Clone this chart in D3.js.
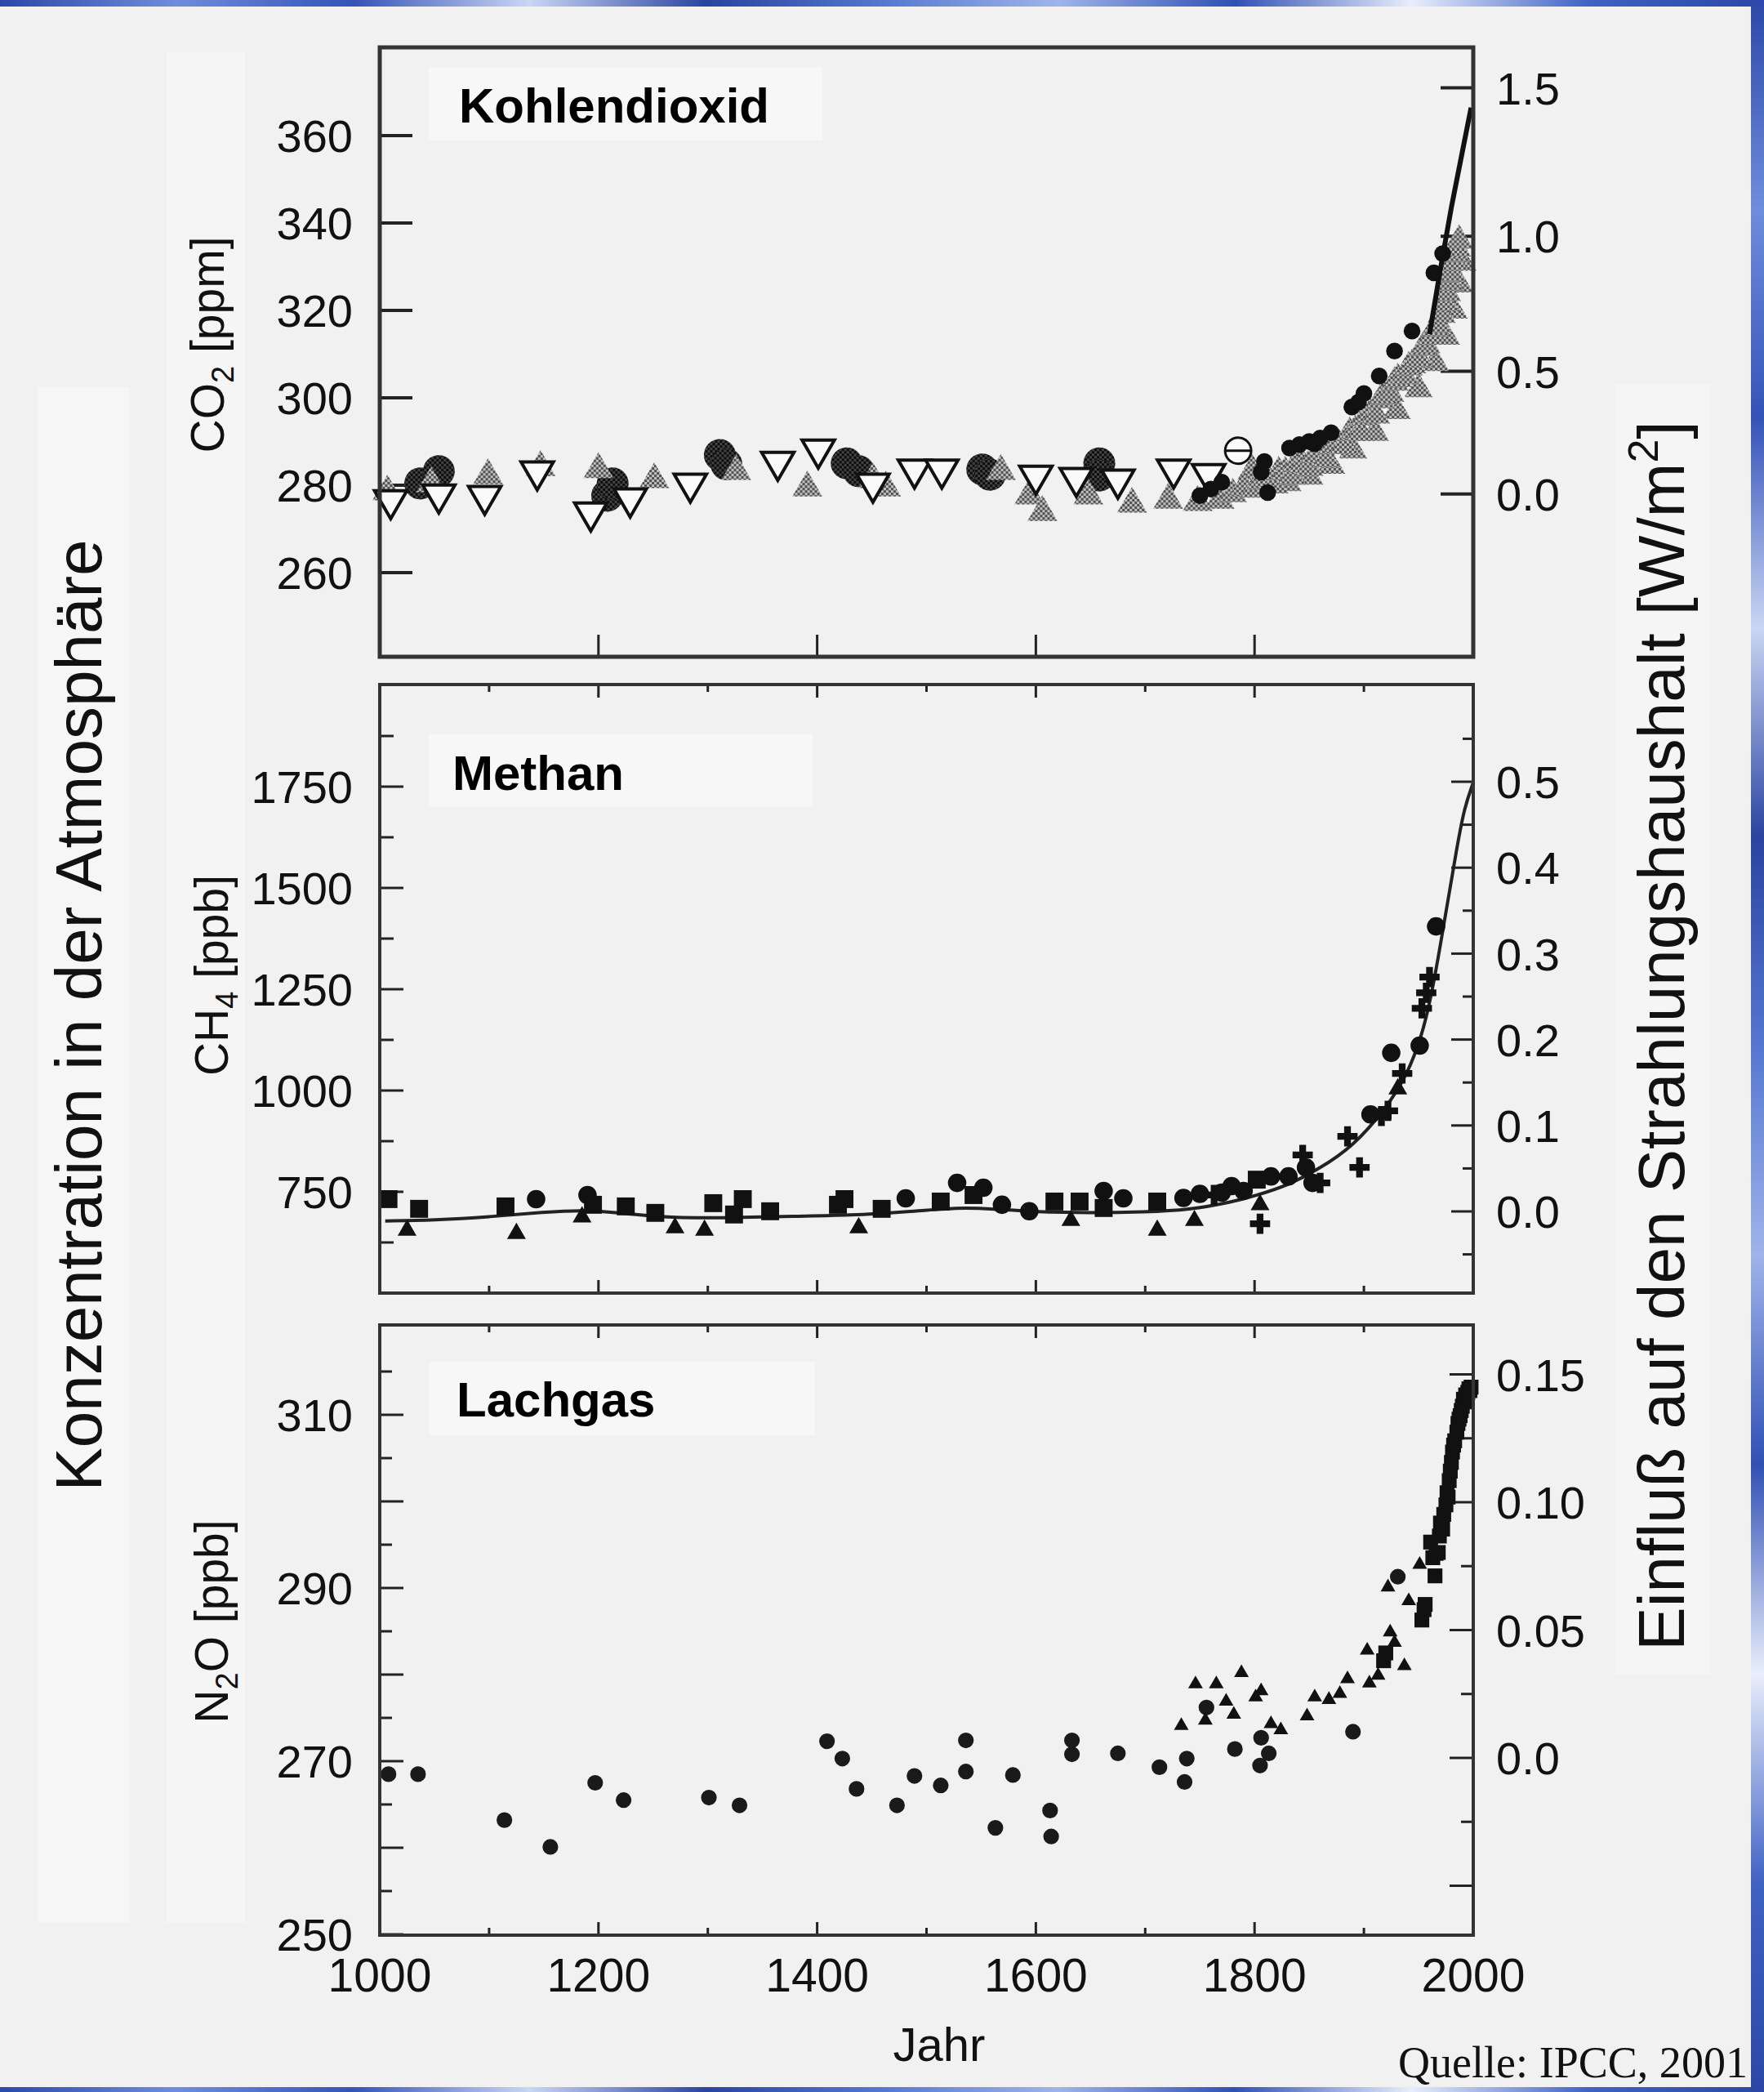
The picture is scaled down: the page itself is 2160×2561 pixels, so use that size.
<!DOCTYPE html>
<html lang="de">
<head>
<meta charset="utf-8">
<title>Konzentration von Treibhausgasen</title>
<script src="https://d3js.org/d3.v7.min.js"></script>
<style>
  body { margin: 0; background: #f1f1f1; }
  svg { display: block; }
</style>
</head>
<body>
<svg id="chart" width="2160" height="2561"></svg>
<script>
// ---------- data ----------
var yearTicks = [1000, 1200, 1400, 1600, 1800, 2000];
var yearMajor = [1200, 1400, 1600, 1800];
var yearMinor = [1100, 1300, 1500, 1700, 1900];

var co2Ticks = [260, 280, 300, 320, 340, 360];
var co2ForcingTicks = [0.0, 0.5, 1.0, 1.5];
var ch4Ticks = [750, 1000, 1250, 1500, 1750];
var ch4Minor = [625, 875, 1125, 1375, 1625, 1875];
var ch4ForcingTicks = [0.0, 0.1, 0.2, 0.3, 0.4, 0.5];
var ch4ForcingMinor = [-0.05, 0.05, 0.15, 0.25, 0.35, 0.45, 0.55];
var n2oTicks = [250, 270, 290, 310];
var n2oMajor = [260, 280, 300];
var n2oMinor = [255, 265, 275, 285, 295, 305, 315];
var n2oForcingTicks = [0.0, 0.05, 0.10, 0.15];
var n2oForcingMajor = [-0.05];
var n2oForcingMinor = [-0.025, 0.025, 0.075, 0.125];

// CO2 [ppm]
var co2Circles = [[1037,280.4],[1054,283.2],[1208,277.6],[1213,280.4],[1311,286.9],[1317,284.8],
  [1427,285.0],[1438,283.2],[1551,283.6],[1558,282.4],[1658,285.0],[1658,282.2]];
var co2OpenDown = [[1010,276.6],[1054,277.9],[1096,277.6],[1144,283.2],[1193,273.8],[1229,277.0],
  [1284,280.4],[1364,285.4],[1401,288.2],[1451,280.4],[1489,283.6],[1514,283.6],[1600,282.2],
  [1637,281.7],[1675,281.3],[1726,283.6],[1758,282.6]];
var co2GrayUp = [[1007,278.5],[1047,280.4],[1099,282.2],[1147,284.1],[1200,283.6],[1251,281.3],
  [1326,283.2],[1391,279.4],[1451,281.3],[1463,279.4],[1568,283.2],[1594,277.6],[1606,273.8],
  [1648,277.6],[1688,275.7],[1721,276.6],[1748,276.1],[1768,276.6],[1798,283.2]];
var co2Band = [[1780,278],[1790,279.5],[1800,279],[1806,281],[1812,281.5],[1818,280],[1822,283],
  [1828,283],[1834,282],[1838,285],[1844,284.7],[1850,284],[1855,287],[1860,286.9],[1866,286],
  [1871,289],[1877,289.3],[1882,289],[1887,292],[1892,292.5],[1897,292],[1901,295.5],[1906,296.4],
  [1911,296],[1915,299.5],[1918,300.4],[1924,301],[1928,303.5],[1931,304.3],[1937,305],[1941,307],
  [1944,307.5],[1950,309],[1954,311.5],[1957,312.1],[1962,314],[1965,316],[1967,316.8],[1971,319],
  [1974,321.7],[1976,324],[1978,326.4],[1980,328.5],[1982,331],[1984,333],[1985,334.2],[1987,336]];
var co2BandLow = [[1830,280.5],[1850,282],[1870,284.5],[1890,288],[1910,292],[1930,297],[1950,302],
  [1965,308],[1975,314],[1982,320],[1987,326],[1990,331]];
var co2Dark = [[1750,277.6],[1760,279.1],[1770,280.7],[1806,283],[1809,285.4],[1812,278.3],
  [1832,288.5],[1841,289.3],[1850,290],[1855,289.5],[1860,290.8],[1870,292],[1889,297.9],
  [1895,299],[1900,301],[1914,305],[1928,310.7],[1944,315.3],[1964,328.6],[1972,333]];
var co2OpenCircle = [[1785,287.9]];
var co2Line = [[1960,314.6],[1970,329.5],[1980,343.6],[1990,356.3],[1998,366.4]];

// CH4 [ppb]
var ch4Squares = [[1008,732],[1036,708],[1115,714],[1195,718],[1225,714],[1252,698],[1305,722],
  [1324,694],[1332,732],[1357,702],[1419,718],[1425,732],[1459,708],[1513,726],[1543,742],
  [1617,726],[1640,726],[1662,710],[1711,726],[1802,780]];
var ch4Circles = [[1143,732],[1190,742],[1481,734],[1528,772],[1552,760],[1569,718],[1594,702],
  [1662,752],[1680,734],[1735,735],[1750,745],[1770,748],[1779,764],[1790,752],[1815,788],
  [1831,788],[1847,810],[1853,772],[1906,941],[1925,1093],[1951,1111],[1966,1405]];
var ch4Triangles = [[1025,655],[1125,647],[1185,688],[1270,661],[1297,655],[1438,661],[1632,679],
  [1711,655],[1745,679],[1805,718],[1931,1004]];
var ch4Crosses = [[1763,742],[1805,671],[1844,841],[1860,772],[1885,887],[1896,810],[1916,937],
  [1922,950],[1935,1042],[1953,1203],[1957,1241],[1960,1280]];
var ch4Line = [[1005,678],[1050,680],[1100,688],[1150,700],[1190,706],[1230,695],[1270,685],
  [1320,686],[1380,690],[1430,692],[1480,700],[1530,712],[1560,708],[1600,700],[1650,698],
  [1700,700],[1740,705],[1780,725],[1800,740],[1830,765],[1860,808],[1890,862],[1920,955],
  [1940,1040],[1955,1150],[1965,1280],[1975,1440],[1985,1600],[1992,1700],[2000,1760]];

// N2O [ppb]
var n2oCircles = [[1008,268.5],[1035,268.5],[1114,263.2],[1156,260.1],[1197,267.5],[1223,265.5],
  [1301,265.8],[1329,264.9],[1409,272.3],[1423,270.3],[1436,266.8],[1473,264.9],[1489,268.3],
  [1513,267.2],[1536,272.4],[1536,268.8],[1563,262.3],[1579,268.4],[1613,264.3],[1614,261.3],
  [1633,272.4],[1633,270.8],[1675,270.9],[1713,269.3],[1738,270.3],[1736,267.6],[1756,276.2],
  [1782,271.4],[1806,272.7],[1813,270.9],[1805,269.5],[1890,273.4],[1931,291.3]];
var n2oTriangles = [[1733,274.1],[1746,278.9],[1765,278.9],[1774,276.9],[1755,274.7],[1788,280.2],
  [1781,275.4],[1806,278.1],[1801,277.4],[1815,274.3],[1824,273.6],[1848,275.2],[1855,277.4],
  [1868,277.1],[1878,277.8],[1885,279.5],[1905,279.0],[1903,282.8],[1913,279.9],[1922,290.1],
  [1924,284.9],[1928,283.7],[1937,281.0],[1941,288.5],[1951,292.7]];
var n2oSquares = [[1918,281.6],[1920,282.5],[1953,286.3],[1955,287.5],[1956,288.1],[1961,295.3],
  [1963,293.5],[1965,291.4],[1966,294],[1968,294.1],[1969,296],[1970,297.5],[1972,296.8],
  [1973,298.5],[1975,299.6],[1976,301],[1977,300.5],[1978,302.4],[1979,303.5],[1980,304.5],
  [1981,305.7],[1982,306.5],[1983,307],[1985,308.0],[1986,309],[1987,309.5],[1988,309.9],
  [1989,310.5],[1990,311],[1991,311.8],[1992,311.5],[1993,312.3],[1994,312],[1995,312.6],
  [1996,313],[1997,312.8],[1998,313.2]];

// ---------- setup ----------
var font = '"Liberation Sans", Arial, Helvetica, sans-serif';
var svg = d3.select("#chart");
var defs = svg.append("defs");

function checker(id, a, b, s) {
  var p = defs.append("pattern").attr("id", id).attr("patternUnits", "userSpaceOnUse")
    .attr("width", 2 * s).attr("height", 2 * s);
  p.append("rect").attr("width", 2 * s).attr("height", 2 * s).attr("fill", b);
  p.append("rect").attr("width", s).attr("height", s).attr("fill", a);
  p.append("rect").attr("x", s).attr("y", s).attr("width", s).attr("height", s).attr("fill", a);
}
checker("grayChk", "#505050", "#c0c0c0", 3);
checker("darkChk", "#0c0c0c", "#444", 3);

// blue frame stripes
var blues = ["#2c48a8", "#6f8ddc", "#3553b8", "#c9d6f4", "#2a44a0", "#5577d0", "#9fb4ea", "#3050b4", "#e8eefc", "#4062c4", "#2b47a6"];
function stripeGrad(id, vertical) {
  var g = defs.append("linearGradient").attr("id", id)
    .attr("x1", 0).attr("y1", 0).attr("x2", vertical ? 0 : 1).attr("y2", vertical ? 1 : 0);
  blues.forEach(function (c, i) {
    g.append("stop").attr("offset", (i / (blues.length - 1) * 100) + "%").attr("stop-color", c);
  });
}
stripeGrad("blueH", false);
stripeGrad("blueV", true);

svg.append("rect").attr("width", 2160).attr("height", 2561).attr("fill", "#f1f1f1");
// lighter label backgrounds
svg.append("rect").attr("x", 46).attr("y", 474).attr("width", 112).attr("height", 1880).attr("fill", "#f6f6f6");
svg.append("rect").attr("x", 204).attr("y", 64).attr("width", 96).attr("height", 2290).attr("fill", "#f5f5f5");
svg.append("rect").attr("x", 1978).attr("y", 470).attr("width", 116).attr("height", 1580).attr("fill", "#f5f5f5");

svg.append("rect").attr("x", 0).attr("y", 0).attr("width", 2160).attr("height", 8).attr("fill", "url(#blueH)");
svg.append("rect").attr("x", 0).attr("y", 2555).attr("width", 2160).attr("height", 6).attr("fill", "url(#blueH)");
svg.append("rect").attr("x", 2144).attr("y", 0).attr("width", 16).attr("height", 2561).attr("fill", "url(#blueV)");

var x = d3.scaleLinear().domain([1000, 2000]).range([465, 1804]);

var yCO2 = d3.scaleLinear().domain([260, 360]).range([701, 166]);
var fCO2 = function (F) { return yCO2(278 * Math.exp(F / 5.2)); };
var yCH4 = d3.scaleLinear().domain([750, 1750]).range([1459, 963]);
var fCH4 = d3.scaleLinear().domain([0, 0.5]).range([1483, 957]);
var yN2O = d3.scaleLinear().domain([270, 310]).range([2156, 1732]);
var fN2O = d3.scaleLinear().domain([0, 0.1]).range([2152, 1839]);

var panels = [
  { top: 58, bottom: 804, title: "Kohlendioxid", tx: 562, ty: 150, box: [525, 82, 482, 90] },
  { top: 838, bottom: 1583, title: "Methan", tx: 554, ty: 967, box: [525, 898, 470, 90] },
  { top: 1622, bottom: 2369, title: "Lachgas", tx: 559, ty: 1734, box: [525, 1667, 473, 90] }
];

panels.forEach(function (p) {
  svg.append("rect").attr("x", p.box[0]).attr("y", p.box[1]).attr("width", p.box[2]).attr("height", p.box[3])
    .attr("fill", "#f7f7f7");
  svg.append("text").attr("x", p.tx).attr("y", p.ty).text(p.title)
    .attr("font-family", font).attr("font-weight", "bold").attr("font-size", 60).attr("fill", "#000");
});

var ticks = svg.append("g").attr("stroke", "#222");
function yTicks(scale, values, x0, dir, len, w, fmt) {
  ticks.selectAll(null).data(values).enter().append("line")
    .attr("x1", x0).attr("x2", x0 + dir * len)
    .attr("y1", function (d) { return scale(d); }).attr("y2", function (d) { return scale(d); })
    .attr("stroke-width", w);
  if (fmt) {
    svg.selectAll(null).data(values).enter().append("text")
      .attr("x", dir > 0 ? x0 - 33 : x0 + 28)
      .attr("y", function (d) { return scale(d); })
      .attr("dy", "0.36em")
      .attr("text-anchor", dir > 0 ? "end" : "start")
      .attr("font-family", font).attr("font-size", 56).attr("fill", "#111")
      .text(fmt);
  }
}
function xTicks(values, y0, dir, len, w) {
  ticks.selectAll(null).data(values).enter().append("line")
    .attr("x1", function (d) { return x(d); }).attr("x2", function (d) { return x(d); })
    .attr("y1", y0).attr("y2", y0 + dir * len)
    .attr("stroke-width", w);
}

// ----- ticks -----
var f1 = d3.format(".1f");
yTicks(yCO2, co2Ticks, 465, 1, 40, 4, d3.format("d"));
yTicks(fCO2, co2ForcingTicks, 1804, -1, 40, 4, f1);
xTicks(yearMajor, 804, -1, 27, 3);

yTicks(yCH4, ch4Ticks, 465, 1, 29, 3, d3.format("d"));
yTicks(yCH4, ch4Minor, 465, 1, 17, 3);
yTicks(fCH4, ch4ForcingTicks, 1804, -1, 27, 3, f1);
yTicks(fCH4, ch4ForcingMinor, 1804, -1, 13, 3);
xTicks(yearMajor, 838, 1, 16, 3);
xTicks(yearMinor, 838, 1, 9, 3);
xTicks(yearMajor, 1583, -1, 16, 3);
xTicks(yearMinor, 1583, -1, 9, 3);

yTicks(yN2O, n2oTicks, 465, 1, 29, 3, d3.format("d"));
yTicks(yN2O, n2oMajor, 465, 1, 29, 3);
yTicks(yN2O, n2oMinor, 465, 1, 15, 3);
yTicks(fN2O, n2oForcingTicks, 1804, -1, 29, 3, function (d) { return d === 0 ? "0.0" : d3.format(".2f")(d); });
yTicks(fN2O, n2oForcingMajor, 1804, -1, 29, 3);
yTicks(fN2O, n2oForcingMinor, 1804, -1, 15, 3);
xTicks(yearMajor, 1622, 1, 16, 3);
xTicks(yearMinor, 1622, 1, 9, 3);
xTicks(yearMajor, 2369, -1, 16, 3);
xTicks(yearMinor, 2369, -1, 9, 3);

svg.selectAll(null).data(yearTicks).enter().append("text")
  .attr("x", function (d) { return x(d); }).attr("y", 2438)
  .attr("text-anchor", "middle").attr("font-family", font).attr("font-size", 57).attr("fill", "#111")
  .text(d3.format("d"));

// ----- marks -----
function dots(data, yScale, type, area, fill, stroke, sw, rot) {
  var sym = d3.symbol().type(type).size(area);
  svg.append("g").selectAll("path").data(data).enter().append("path")
    .attr("d", sym)
    .attr("transform", function (d) {
      return "translate(" + x(d[0]) + "," + yScale(d[1]) + ")" + (rot ? " rotate(180)" : "");
    })
    .attr("fill", fill).attr("stroke", stroke || "none").attr("stroke-width", sw || 0);
}

// CO2
dots(co2Circles, yCO2, d3.symbolCircle, 1200, "url(#darkChk)");
dots(co2GrayUp, yCO2, d3.symbolTriangle, 580, "url(#grayChk)");
dots(co2OpenDown, yCO2, d3.symbolTriangle, 680, "#fafafa", "#111", 4, true);
dots(co2BandLow, yCO2, d3.symbolTriangle, 520, "url(#grayChk)");
dots(co2Band, yCO2, d3.symbolTriangle, 520, "url(#grayChk)");
dots(co2Dark, yCO2, d3.symbolCircle, 330, "#111");
dots(co2OpenCircle, yCO2, d3.symbolCircle, 800, "#fafafa", "#111", 3);
svg.append("g").selectAll("line").data(co2OpenCircle).enter().append("line")
  .attr("x1", function (d) { return x(d[0]) - 16; }).attr("x2", function (d) { return x(d[0]) + 16; })
  .attr("y1", function (d) { return yCO2(d[1]); }).attr("y2", function (d) { return yCO2(d[1]); })
  .attr("stroke", "#111").attr("stroke-width", 3);
svg.append("path").datum(co2Line)
  .attr("d", d3.line().x(function (d) { return x(d[0]); }).y(function (d) { return yCO2(d[1]); }))
  .attr("fill", "none").attr("stroke", "#111").attr("stroke-width", 6);

// CH4
svg.append("path").datum(ch4Line)
  .attr("d", d3.line().curve(d3.curveBasis).x(function (d) { return x(d[0]); }).y(function (d) { return yCH4(d[1]); }))
  .attr("fill", "none").attr("stroke", "#222").attr("stroke-width", 4);
dots(ch4Squares, yCH4, d3.symbolSquare, 480, "#111");
dots(ch4Circles, yCH4, d3.symbolCircle, 400, "#111");
dots(ch4Triangles, yCH4, d3.symbolTriangle, 230, "#111");
dots(ch4Crosses, yCH4, d3.symbolCross, 340, "#111");

// N2O
dots(n2oCircles, yN2O, d3.symbolCircle, 290, "#1a1a1a");
dots(n2oTriangles, yN2O, d3.symbolTriangle, 140, "#111");
dots(n2oSquares, yN2O, d3.symbolSquare, 330, "#111");

// frames on top
panels.forEach(function (p, i) {
  svg.append("rect").attr("x", 465).attr("y", p.top).attr("width", 1804 - 465).attr("height", p.bottom - p.top)
    .attr("fill", "none").attr("stroke", "#333").attr("stroke-width", i === 0 ? 5 : 4);
});

// ----- axis titles -----
function vLabel(xp, yp, size, parts) {
  var t = svg.append("text").attr("transform", "translate(" + xp + "," + yp + ") rotate(-90)")
    .attr("text-anchor", "middle").attr("font-family", font).attr("font-size", size).attr("fill", "#111");
  parts.forEach(function (p) {
    var s = t.append("tspan").text(p[0]);
    if (p[1]) s.attr("dy", p[1]);
    if (p[2]) s.attr("font-size", p[2]);
  });
}
vLabel(274, 422, 57, [["CO"], ["2", 12, 38], [" [ppm]", -12]]);
vLabel(279, 1194, 57, [["CH"], ["4", 12, 38], [" [ppb]", -12]]);
vLabel(279, 1985, 57, [["N"], ["2", 12, 38], ["O [ppb]", -12]]);
vLabel(124, 1243, 80, [["Konzentration in der Atmosphäre"]]);
vLabel(2062, 1268, 80, [["Einfluß auf den Strahlungshaushalt [W/m"], ["2", -32, 52], ["]", 32]]);

svg.append("text").attr("x", 1150).attr("y", 2523).attr("text-anchor", "middle")
  .attr("font-family", font).attr("font-size", 58).attr("fill", "#111").text("Jahr");
svg.append("text").attr("x", 2140).attr("y", 2543).attr("text-anchor", "end")
  .attr("font-family", '"Liberation Serif", "Times New Roman", serif').attr("font-size", 54)
  .attr("textLength", 428).attr("lengthAdjust", "spacingAndGlyphs")
  .attr("fill", "#111").text("Quelle: IPCC, 2001");
</script>
</body>
</html>
